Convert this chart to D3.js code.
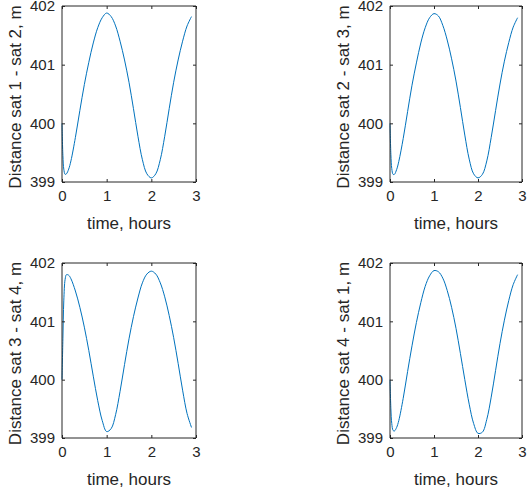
<!DOCTYPE html>
<html>
<head>
<meta charset="utf-8">
<script src="https://cdn.jsdelivr.net/npm/d3@7"></script>
<style>
  html, body { margin: 0; padding: 0; background: #ffffff; }
  svg { display: block; }
</style>
</head>
<body>
<svg id="chart" width="530" height="496"></svg>
<script>
// ---------------- data ----------------
const hours = [0, 0.02, 0.04, 0.07, 0.1, 0.15, 0.2, 0.3, 0.4, 0.5, 0.6, 0.7, 0.8, 0.9, 1.0,
               1.1, 1.2, 1.3, 1.4, 1.5, 1.6, 1.7, 1.8, 1.9, 2.0,
               2.1, 2.2, 2.3, 2.4, 2.5, 2.6, 2.7, 2.8, 2.9];

const dist12 = [400.00, 399.45, 399.22, 399.13, 399.14, 399.22, 399.36, 399.76, 400.22, 400.66, 401.04, 401.37, 401.63, 401.80, 401.88,
                401.82, 401.66, 401.40, 401.08, 400.70, 400.25, 399.78, 399.38, 399.14, 399.07,
                399.14, 399.38, 399.78, 400.25, 400.70, 401.08, 401.40, 401.66, 401.82];

const dist23 = [400.00, 399.47, 399.23, 399.13, 399.13, 399.21, 399.35, 399.74, 400.20, 400.65, 401.03, 401.37, 401.63, 401.80, 401.87,
                401.83, 401.67, 401.42, 401.10, 400.72, 400.27, 399.80, 399.39, 399.14, 399.07,
                399.13, 399.36, 399.76, 400.22, 400.67, 401.06, 401.38, 401.64, 401.80];

const dist34 = [400.00, 400.70, 401.35, 401.72, 401.80, 401.79, 401.73, 401.52, 401.24, 400.90, 400.50, 400.06, 399.64, 399.30, 399.11,
                399.16, 399.40, 399.80, 400.26, 400.70, 401.08, 401.40, 401.66, 401.81, 401.86,
                401.81, 401.66, 401.42, 401.10, 400.72, 400.28, 399.82, 399.42, 399.18];

const dist41 = [400.00, 399.50, 399.25, 399.13, 399.12, 399.18, 399.30, 399.68, 400.14, 400.58, 400.98, 401.32, 401.60, 401.78, 401.87,
                401.85, 401.74, 401.53, 401.24, 400.88, 400.45, 400.00, 399.58, 399.25, 399.08,
                399.10, 399.32, 399.70, 400.16, 400.62, 401.02, 401.36, 401.63, 401.80];

const xTicks = [0, 1, 2, 3];
const yTicks = [399, 400, 401, 402];
const xLabel = "time, hours";
const yLabels = ["Distance sat 1 - sat 2, m", "Distance sat 2 - sat 3, m",
                 "Distance sat 3 - sat 4, m", "Distance sat 4 - sat 1, m"];
const seriesList = [dist12, dist23, dist34, dist41];

// ---------------- layout ----------------
const panels = [
  {x0: 62,  x1: 196, y0: 6,   y1: 182},
  {x0: 390, x1: 522, y0: 6,   y1: 182},
  {x0: 62,  x1: 196, y0: 263, y1: 438},
  {x0: 390, x1: 522, y0: 263, y1: 438}
];

const axisColor = "#262626";
const lineColor = "#0072BD";
const fontFam = "'Liberation Sans', Arial, Helvetica, sans-serif";

const svg = d3.select("#chart");

panels.forEach((p, i) => {
  const x = d3.scaleLinear().domain([0, 3]).range([p.x0, p.x1]);
  const y = d3.scaleLinear().domain([399, 402]).range([p.y1, p.y0]);
  const g = svg.append("g");

  const pts = hours.map((h, k) => [h, seriesList[i][k]]);
  g.append("path")
    .datum(pts)
    .attr("fill", "none")
    .attr("stroke", lineColor)
    .attr("stroke-width", 1)
    .attr("d", d3.line().x(d => x(d[0])).y(d => y(d[1])).curve(d3.curveCatmullRom.alpha(0.5)));

  const tickLen = 3;
  const bottom = g.append("g").attr("transform", `translate(0,${p.y1})`)
    .call(d3.axisBottom(x).tickValues(xTicks).tickSize(-tickLen).tickPadding(8).tickFormat(d3.format("d")));
  const top = g.append("g").attr("transform", `translate(0,${p.y0})`)
    .call(d3.axisTop(x).tickValues(xTicks).tickSize(-tickLen).tickFormat(""));
  const left = g.append("g").attr("transform", `translate(${p.x0},0)`)
    .call(d3.axisLeft(y).tickValues(yTicks).tickSize(-tickLen).tickPadding(7).tickFormat(d3.format("d")));
  const right = g.append("g").attr("transform", `translate(${p.x1},0)`)
    .call(d3.axisRight(y).tickValues(yTicks).tickSize(-tickLen).tickFormat(""));

  [bottom, top, left, right].forEach(a => {
    a.select(".domain").attr("stroke", axisColor).attr("stroke-width", 1);
    a.selectAll(".tick line").attr("stroke", axisColor).attr("stroke-width", 1);
    a.selectAll("text").attr("fill", axisColor).style("font-family", fontFam).style("font-size", "15px");
  });
  bottom.selectAll(".domain").attr("d", `M${p.x0},0H${p.x1}`);
  top.selectAll(".domain").attr("d", `M${p.x0},0H${p.x1}`);
  left.selectAll(".domain").attr("d", `M0,${p.y0}V${p.y1}`);
  right.selectAll(".domain").attr("d", `M0,${p.y0}V${p.y1}`);

  g.append("text")
    .attr("x", (p.x0 + p.x1) / 2)
    .attr("y", p.y1 + 47)
    .attr("text-anchor", "middle")
    .attr("fill", axisColor)
    .style("font-family", fontFam)
    .style("font-size", "17px")
    .text(xLabel);

  g.append("text")
    .attr("transform", `translate(${p.x0 - 41},${(p.y0 + p.y1) / 2 + 3}) rotate(-90)`)
    .attr("text-anchor", "middle")
    .attr("fill", axisColor)
    .style("font-family", fontFam)
    .style("font-size", "17px")
    .text(yLabels[i]);
});
</script>
</body>
</html>
